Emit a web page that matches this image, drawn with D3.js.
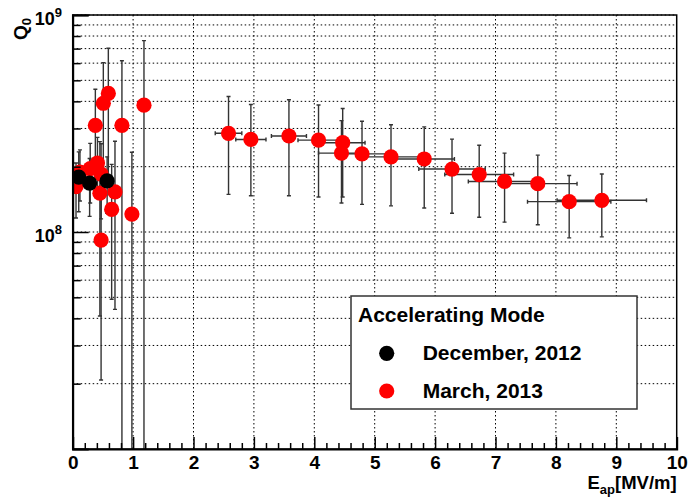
<!DOCTYPE html>
<html><head><meta charset="utf-8">
<script src="https://cdn.jsdelivr.net/npm/d3@7"></script>
<style>
html,body{margin:0;padding:0;background:#fff;}
text{font-family:"Liberation Sans",Arial,Helvetica,sans-serif;font-weight:bold;}
</style></head>
<body>
<script>
// ---- data ----
const xTickValues = [0,1,2,3,4,5,6,7,8,9,10];
const xTickLabels = ["0","1","2","3","4","5","6","7","8","9","10"];
const yMajorTicks = [1e8, 1e9];
const yMajorExp = ["8", "9"];
const legendTitle = "Accelerating Mode";
const seriesNames = ["December, 2012", "March, 2013"];

const decE    = [0.10, 0.28, 0.57];
const decQ    = [1.79e8, 1.68e8, 1.72e8];
const decErrE = [0, 0, 0];
const decErrQ = [0.55e8, 0.50e8, 0.50e8];

const marE    = [0.055,0.12,0.29,0.41,0.47,0.45,0.70,0.645,0.98,0.47,0.375,0.815,0.507,0.59,1.18,
                 2.58,2.95,3.58,4.07,4.47,4.45,4.79,5.27,5.82,6.28,6.73,7.15,7.70,8.22,8.76];
const marQ    = [1.62e8,1.89e8,1.96e8,2.08e8,1.85e8,1.51e8,1.53e8,1.27e8,1.21e8,0.918e8,3.1e8,3.1e8,3.92e8,4.35e8,3.84e8,
                 2.85e8,2.67e8,2.77e8,2.65e8,2.58e8,2.31e8,2.29e8,2.22e8,2.17e8,1.95e8,1.84e8,1.71e8,1.67e8,1.38e8,1.40e8];
const marErrE = [0,0,0,0,0,0,0,0,0,0,0,0,0,0,0,
                 0.22,0.25,0.29,0.34,0.37,0.38,0.42,0.46,0.50,0.55,0.57,0.60,0.65,0.69,0.74];
const marErrQ = [0.46e8,0.50e8,0.60e8,0.65e8,0.70e8,1.10e8,1.09e8,0.78e8,1.12e8,0.71e8,1.45e8,3.05e8,2.11e8,2.68e8,3.78e8,
                 1.36e8,1.20e8,1.30e8,1.20e8,1.13e8,0.95e8,0.95e8,0.90e8,0.88e8,0.73e8,0.67e8,0.60e8,0.59e8,0.44e8,0.45e8];

// ---- layout ----
const W = 688, H = 500;
const L = 72.7, R = 676.7, T = 15, B = 449;

const svg = d3.select("body").append("svg").attr("width", W).attr("height", H);

const x = d3.scaleLinear().domain([0, 10]).range([L, R]);
const y = d3.scaleLog().domain([1e7, 1e9]).range([B, T]);

const yMinor = [];
[1e7, 1e8].forEach(d => { for (let k = 2; k <= 9; k++) yMinor.push(k * d); });
const yGridVals = yMinor.concat(yMajorTicks);
const xMinor = d3.range(0, 50).map(i => i * 0.2).filter(v => Math.abs(v - Math.round(v)) > 1e-6);

// grid
const grid = svg.append("g").attr("stroke", "#000").attr("stroke-width", 1).attr("stroke-dasharray", "1.5,2.5");
grid.selectAll("line.h").data(yGridVals).join("line").attr("class", "h")
  .attr("x1", L).attr("x2", R).attr("y1", d => y(d)).attr("y2", d => y(d));
grid.selectAll("line.v").data(xTickValues.slice(1, -1)).join("line").attr("class", "v")
  .attr("y1", T).attr("y2", B).attr("x1", d => x(d)).attr("x2", d => x(d));

// clip
svg.append("clipPath").attr("id", "clip").append("rect")
  .attr("x", L).attr("y", T).attr("width", R - L).attr("height", B - T);
const plot = svg.append("g").attr("clip-path", "url(#clip)");

function series(E, Q, eE, eQ) {
  return E.map((e, i) => ({ e, q: Q[i], ee: eE[i], eq: eQ[i] }));
}
const dec = series(decE, decQ, decErrE, decErrQ);
const mar = series(marE, marQ, marErrE, marErrQ);

function drawErrors(data, color) {
  const g = plot.append("g").attr("stroke", color).attr("stroke-width", 1.4).attr("fill", "none");
  const cap = 2;
  data.forEach(d => {
    const cx = x(d.e), cy = y(d.q);
    const lo = d.q - d.eq;
    const yTop = y(d.q + d.eq);
    const yBot = lo > 0 ? y(lo) : B + 20;
    g.append("line").attr("x1", cx).attr("x2", cx).attr("y1", yTop).attr("y2", yBot);
    g.append("line").attr("x1", cx - cap).attr("x2", cx + cap).attr("y1", yTop).attr("y2", yTop);
    if (lo > 0) g.append("line").attr("x1", cx - cap).attr("x2", cx + cap).attr("y1", yBot).attr("y2", yBot);
    if (d.ee > 0) {
      const xl = x(d.e - d.ee), xr = x(d.e + d.ee);
      g.append("line").attr("x1", xl).attr("x2", xr).attr("y1", cy).attr("y2", cy);
      g.append("line").attr("x1", xl).attr("x2", xl).attr("y1", cy - cap).attr("y2", cy + cap);
      g.append("line").attr("x1", xr).attr("x2", xr).attr("y1", cy - cap).attr("y2", cy + cap);
    }
  });
}
drawErrors(mar, "#333");
drawErrors(dec, "#333");

plot.append("g").selectAll("circle").data(mar).join("circle")
  .attr("cx", d => x(d.e)).attr("cy", d => y(d.q)).attr("r", 7.6).attr("fill", "#ff0000");
plot.append("g").selectAll("circle").data(dec).join("circle")
  .attr("cx", d => x(d.e)).attr("cy", d => y(d.q)).attr("r", 7.6).attr("fill", "#000");

// frame
svg.append("rect").attr("x", L).attr("y", T).attr("width", R - L).attr("height", B - T)
  .attr("fill", "none").attr("stroke", "#000").attr("stroke-width", 1.5);

// x axis
const xAxis = d3.axisBottom(x).tickValues(xTickValues).tickSize(-12).tickPadding(7)
  .tickFormat((d, i) => xTickLabels[i]);
const gx = svg.append("g").attr("transform", `translate(0,${B})`).call(xAxis);
gx.select(".domain").attr("stroke-width", 2);
gx.selectAll(".tick line").attr("stroke-width", 1.5);
gx.selectAll("text").attr("font-size", 19).attr("fill", "#000")
  .style("font-family", '"Liberation Sans",Arial,sans-serif').style("font-weight", "bold");
const gxm = svg.append("g").attr("transform", `translate(0,${B})`)
  .call(d3.axisBottom(x).tickValues(xMinor).tickSize(-6).tickFormat(""));
gxm.select(".domain").remove();
gxm.selectAll(".tick line").attr("stroke-width", 1.5);

// y axis
const gy = svg.append("g").attr("transform", `translate(${L},0)`)
  .call(d3.axisLeft(y).tickValues(yMajorTicks).tickSize(-16).tickFormat(""));
gy.select(".domain").attr("stroke-width", 2);
gy.selectAll(".tick line").attr("stroke-width", 1.5);
const gym = svg.append("g").attr("transform", `translate(${L},0)`)
  .call(d3.axisLeft(y).tickValues(yMinor).tickSize(-8).tickFormat(""));
gym.select(".domain").remove();
gym.selectAll(".tick line").attr("stroke-width", 1.5);

const ylab = svg.append("g");
yMajorTicks.forEach((v, i) => {
  const t = ylab.append("text").attr("x", 62).attr("y", y(v) + 10).attr("text-anchor", "end")
    .attr("font-size", 18).attr("fill", "#000");
  t.append("tspan").text("10");
  t.append("tspan").attr("dy", -8).attr("font-size", 13).text(yMajorExp[i]);
});

// axis titles
const xt = svg.append("text").attr("x", R).attr("y", 489).attr("text-anchor", "end")
  .attr("font-size", 18.5).attr("fill", "#000");
xt.append("tspan").text("E");
xt.append("tspan").attr("dy", 5).attr("font-size", 13).text("ap");
xt.append("tspan").attr("dy", -5).text("[MV/m]");

const yt = svg.append("text").attr("transform", "translate(27,18) rotate(-90)").attr("text-anchor", "end")
  .attr("font-size", 19).attr("fill", "#000");
yt.append("tspan").text("Q");
yt.append("tspan").attr("dy", 4).attr("font-size", 13).text("0");

// legend
const lg = svg.append("g");
lg.append("rect").attr("x", 351).attr("y", 296).attr("width", 286).attr("height", 113)
  .attr("fill", "#fff").attr("stroke", "#333").attr("stroke-width", 1.5);
lg.append("text").attr("x", 358).attr("y", 322).attr("font-size", 21).attr("fill", "#000").text(legendTitle);
const legColors = ["#000", "#ff0000"];
[353.3, 391].forEach((cy, i) => {
  lg.append("circle").attr("cx", 386.7).attr("cy", cy).attr("r", 7.6).attr("fill", legColors[i]);
  lg.append("text").attr("x", 422.7).attr("y", cy + 6.5).attr("font-size", 21).attr("fill", "#000").text(seriesNames[i]);
});
</script>
</body></html>
